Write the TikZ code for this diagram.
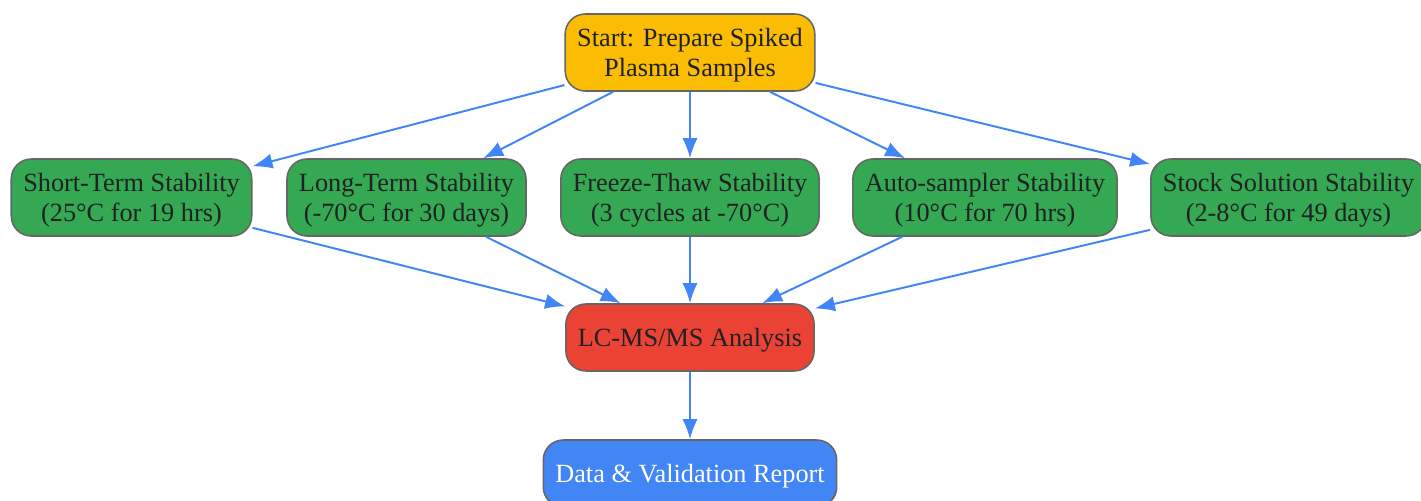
\documentclass[tikz,border=0pt]{standalone}
\usepackage{fontspec}
\setmainfont{Liberation Serif}
\usetikzlibrary{positioning}
\usetikzlibrary{arrows.meta}
\definecolor{gyellow}{HTML}{FBBC04}
\definecolor{ggreen}{HTML}{34A853}
\definecolor{gred}{HTML}{EA4335}
\definecolor{gblue}{HTML}{4285F4}
\definecolor{gborder}{HTML}{666666}
\definecolor{gtext}{HTML}{202124}
\tikzset{
	box/.style={draw=gborder, rectangle, rounded corners=0.5cm, line width=1.1pt, inner xsep=0.3cm, text depth=-0.14cm, align=center, text=gtext, font=\fontsize{18.7}{21.3}\selectfont},
	startbox/.style={box, minimum height=1.925cm, fill=gyellow},
	stab/.style={box, minimum height=1.925cm, fill=ggreen},
	analysis/.style={box, minimum height=1.675cm, fill=gred},
	report/.style={box, minimum height=1.675cm, fill=gblue, text=white},
}

\begin{document}
\begin{tikzpicture}
			\useasboundingbox (0,0) rectangle (35.525,-12.525);
			
			\node (start) [startbox] at (17.25,-1.3125) {Start: Prepare Spiked\\Plasma Samples};
			
			\node (freeze) [stab, below of=start, yshift=-2.625cm] {Freeze-Thaw Stability\\(3 cycles at -70°C)};
			\node (long) [stab, left of=freeze, xshift=-6.0875cm] {Long-Term Stability\\(-70°C for 30 days)};
			\node (short) [stab, left of=long, xshift=-5.875cm] {Short-Term Stability\\(25°C for 19 hrs)};
			\node (auto) [stab, right of=freeze, xshift=6.375cm] {Auto-sampler Stability\\(10°C for 70 hrs)};
			\node (stock) [stab, right of=auto, xshift=6.5875cm] {Stock Solution Stability\\(2-8°C for 49 days)};
			
			\node (lcms) [analysis, below of=freeze, yshift=-2.5cm] {LC-MS/MS Analysis};
			\node (data) [report, below of=lcms, yshift=-2.4cm] {Data \& Validation Report};
			
			\begin{scope}[line width=1.4pt, gblue, ->, >={Latex[length=0.5cm, width=0.38cm]}]
				\draw (start) -- (short);
				\draw (start) -- (long);
				\draw (start) -- (freeze);
				\draw (start) -- (auto);
				\draw (start) -- (stock);
				
				\draw (short) -- (lcms);
				\draw (long) -- (lcms);
				\draw (freeze) -- (lcms);
				\draw (auto) -- (lcms);
				\draw (stock) -- (lcms);
				
				\draw (lcms) -- (data);
			\end{scope}
		\end{tikzpicture}
\end{document}
